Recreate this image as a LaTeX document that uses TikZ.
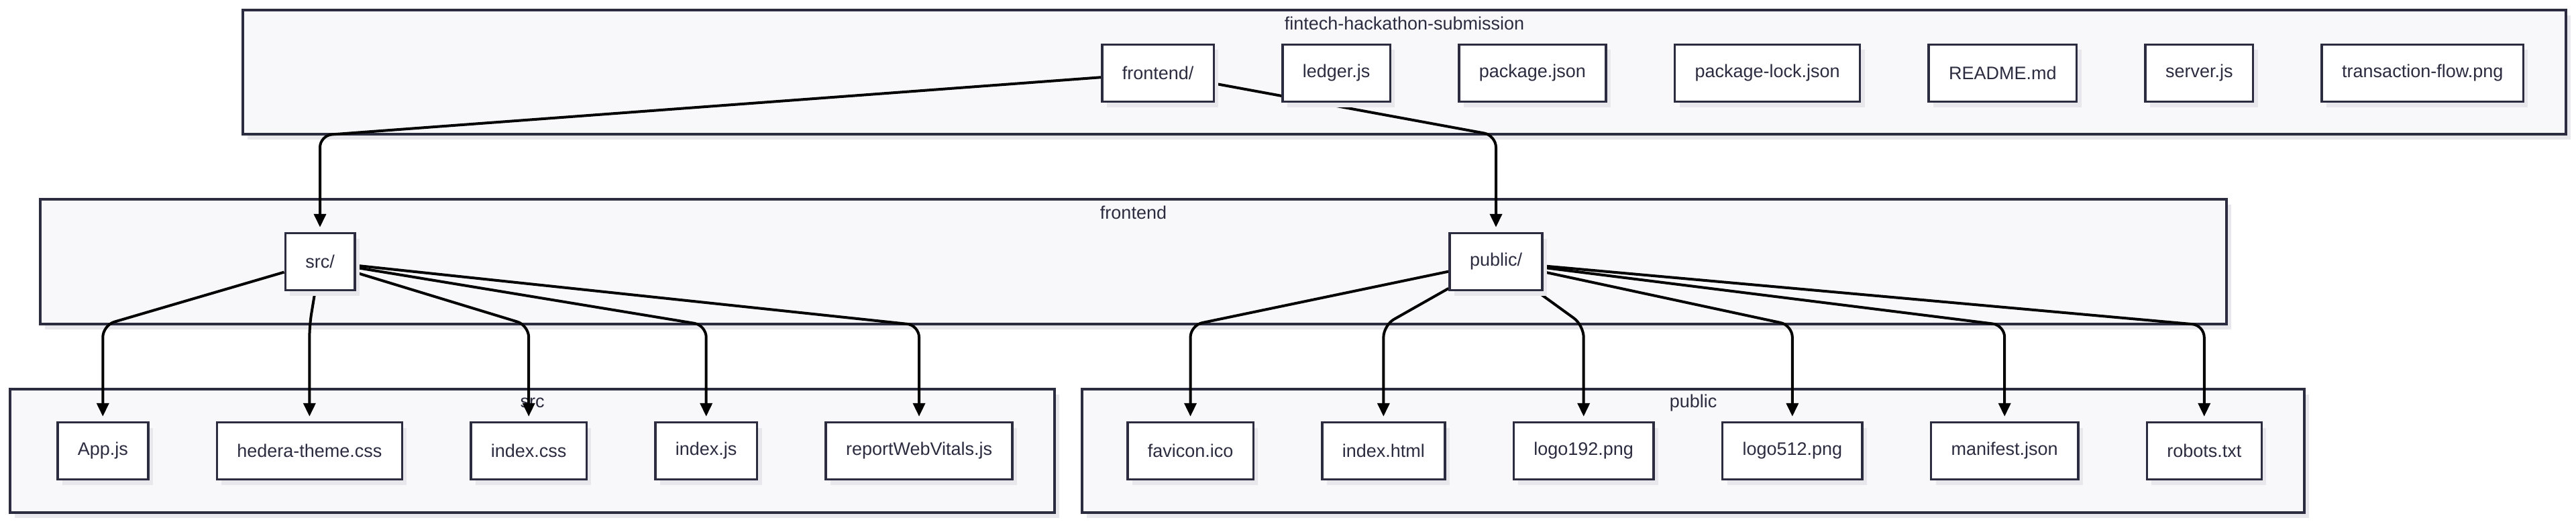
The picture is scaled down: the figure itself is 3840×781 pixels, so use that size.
\documentclass[tikz,border=0pt]{standalone}
\usepackage{fontspec}
\setmainfont{Liberation Sans}
\usetikzlibrary{positioning,arrows.meta,shadows}
\definecolor{ink}{HTML}{2C2C40}
\definecolor{pane}{HTML}{F8F8FA}
\definecolor{shade}{HTML}{E8E8EC}
\pgfdeclarelayer{back}
\pgfdeclarelayer{edges}
\pgfsetlayers{back,edges,main}

\begin{document}
\begin{tikzpicture}[x=1pt, y=-1pt, node distance=99pt, text=ink,
  font=\fontsize{27}{32}\selectfont, >={Triangle[length=20pt,width=18pt]},
  main/.style = {draw=ink, line width=3.5pt, fill=white, minimum height=85pt, inner xsep=30pt,
    general shadow={fill=shade, shadow xshift=7pt, shadow yshift=-8pt}},
  cluster/.style = {draw=ink, line width=3.5pt, fill=pane,
    general shadow={fill=shade, shadow xshift=7pt, shadow yshift=-8pt}},
  clabel/.style = {inner sep=0pt},
  edge/.style = {->, line width=4pt, rounded corners=18pt, shorten >=7pt}]
\useasboundingbox (0,0) rectangle (3840,781);

% clusters
\begin{pgfonlayer}{back}
\node[cluster, minimum width=3463pt, minimum height=185pt] (repo) at (2093.5,107.5) {};
\node[clabel] (repolabel) at ([yshift=-22pt]repo.north) {fintech-hackathon-submission};
\node[cluster, minimum width=3259pt, minimum height=186pt] (front) at (1689.5,390) {};
\node[clabel] (frontlabel) at ([yshift=-22pt]front.north) {frontend};
\node[cluster, minimum width=1557pt, minimum height=184pt] (srcbox) at (793.5,672) {};
\node[clabel] (srclabel) at ([yshift=-22pt]srcbox.north) {src};
\node[cluster, minimum width=1822pt, minimum height=184pt] (pubbox) at (2524,672) {};
\node[clabel] (publabel) at ([yshift=-22pt]pubbox.north) {public};
\end{pgfonlayer}

% top level
\node[main, anchor=west] (frontend) at (1641,109) {frontend/};
\node[main, right=of frontend] (ledger) {ledger.js};
\node[main, right=of ledger] (pkg) {package.json};
\node[main, right=of pkg] (pkglock) {package-lock.json};
\node[main, right=of pkglock] (readme) {README.md};
\node[main, right=of readme] (server) {server.js};
\node[main, right=of server] (txflow) {transaction-flow.png};

% frontend
\node[main] (src) at (477,390) {src/};
\node[main] (public) at (2230,390) {public/};

% src
\node[main, anchor=west] (appjs) at (84,672) {App.js};
\node[main, right=of appjs] (theme) {hedera-theme.css};
\node[main, right=of theme] (indexcss) {index.css};
\node[main, right=of indexcss] (indexjs) {index.js};
\node[main, right=of indexjs] (vitals) {reportWebVitals.js};

% public
\node[main, anchor=west] (favicon) at (1679,672) {favicon.ico};
\node[main, right=of favicon] (indexhtml) {index.html};
\node[main, right=of indexhtml] (logoA) {logo192.png};
\node[main, right=of logoA] (logoB) {logo512.png};
\node[main, right=of logoB] (manifest) {manifest.json};
\node[main, right=of manifest] (robots) {robots.txt};

\begin{pgfonlayer}{edges}
\draw[edge] (frontend) -- (src |- repo.south) -- (src);
\draw[edge] (frontend) -- (public |- repo.south) -- (public);
\foreach \f in {appjs,theme,indexcss,indexjs,vitals}
  \draw[edge] (src) -- (\f |- front.south) -- (\f);
\foreach \f in {favicon,indexhtml,logoA,logoB,manifest,robots}
  \draw[edge] (public) -- (\f |- front.south) -- (\f);
\end{pgfonlayer}
\end{tikzpicture}
\end{document}
